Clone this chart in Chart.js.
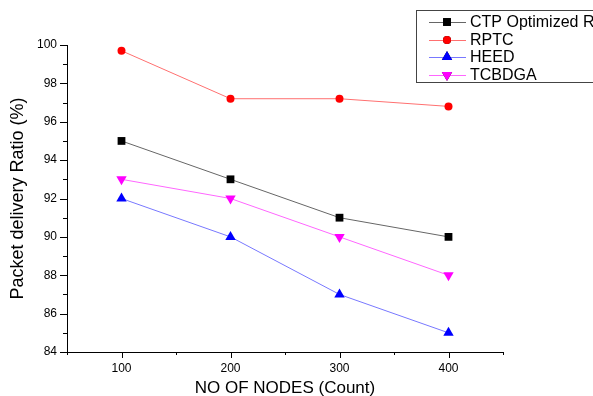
<!DOCTYPE html>
<html>
<head>
<meta charset="UTF-8"/>
<title>Packet delivery Ratio</title>
<script src="https://cdn.jsdelivr.net/npm/chart.js@4.4.0/dist/chart.umd.min.js"></script>
<style>
    body { margin: 0; background: #fff; }
    #box { width: 593px; height: 396px; position: relative; }
</style>
</head>
<body>
<div id="box">
    <canvas id="prChart"></canvas>
</div>
<script>
    // data
    var nodes = [100, 200, 300, 400];
    var ctpValues = [95, 93, 91, 90];
    var rptcValues = [99.7, 97.2, 97.2, 96.8];
    var heedValues = [92, 90, 87, 85];
    var tcbdgaValues = [93, 92, 90, 88];
    var seriesNames = ['CTP Optimized RPL', 'RPTC', 'HEED', 'TCBDGA'];
    var xTickLabels = [100, 200, 300, 400];
    var yTickLabels = [84, 86, 88, 90, 92, 94, 96, 98, 100];

    var FONT = "Arial, 'Liberation Sans', sans-serif";

    function toPoints(vals) {
        return nodes.map(function (n, i) { return {x: n, y: vals[i]}; });
    }

    var styles = [
        {line: '#666666', fill: '#000000', shape: 'rect', r: 5.5, rot: 0},
        {line: '#ff7070', fill: '#ff0000', shape: 'circle', r: 4, rot: 0},
        {line: '#7878ff', fill: '#0000ff', shape: 'triangle', r: 6, rot: 0},
        {line: '#ff66ff', fill: '#ff00ff', shape: 'triangle', r: 6, rot: 180}
    ];
    var allValues = [ctpValues, rptcValues, heedValues, tcbdgaValues];

    var datasets = allValues.map(function (vals, i) {
        var s = styles[i];
        return {
            label: seriesNames[i],
            data: toPoints(vals),
            borderColor: s.line,
            borderWidth: 1,
            backgroundColor: s.fill,
            pointBackgroundColor: s.fill,
            pointBorderColor: s.fill,
            pointBorderWidth: 0,
            pointStyle: s.shape,
            pointRadius: s.r,
            pointRotation: s.rot,
            pointHoverRadius: s.r,
            tension: 0,
            fill: false
        };
    });

    // Origin style tick marks (major + minor)
    var tickMarks = {
        id: 'tickMarks',
        afterDraw: function (chart) {
            var ctx = chart.ctx;
            var xs = chart.scales.x, ys = chart.scales.y;
            var area = chart.chartArea;
            ctx.save();
            ctx.strokeStyle = '#000';
            ctx.lineWidth = 1;
            ctx.beginPath();
            for (var v = 50; v <= 450; v += 50) {
                var px = Math.round(xs.getPixelForValue(v)) + 0.5;
                var len = (v % 100 === 0) ? 6 : 3;
                ctx.moveTo(px, area.bottom);
                ctx.lineTo(px, area.bottom + len);
            }
            for (var w = 84; w <= 100; w += 1) {
                var py = Math.round(ys.getPixelForValue(w)) + 0.5;
                var l2 = (w % 2 === 0) ? 7 : 4;
                ctx.moveTo(area.left, py);
                ctx.lineTo(area.left - l2, py);
            }
            ctx.stroke();
            ctx.restore();
        }
    };

    // boxed legend at top right, as in the original
    var boxLegend = {
        id: 'boxLegend',
        afterDraw: function (chart) {
            var ctx = chart.ctx;
            ctx.save();
            ctx.strokeStyle = '#444';
            ctx.lineWidth = 1;
            ctx.strokeRect(416.5, 10.5, 200, 72);
            var rows = [22, 40, 57, 75];
            ctx.font = '16px ' + FONT;
            ctx.textBaseline = 'middle';
            ctx.textAlign = 'left';
            chart.data.datasets.forEach(function (ds, i) {
                var y = rows[i];
                ctx.strokeStyle = ds.borderColor;
                ctx.beginPath();
                ctx.moveTo(429, y + 0.5);
                ctx.lineTo(466, y + 0.5);
                ctx.stroke();
                Chart.helpers.drawPoint(ctx, {
                    pointStyle: ds.pointStyle,
                    radius: ds.pointRadius,
                    rotation: ds.pointRotation,
                    borderWidth: 0
                }, 447, y);
                ctx.fillStyle = ds.pointBackgroundColor;
                ctx.fill();
                ctx.fillStyle = '#000';
                ctx.fillText(ds.label, 470, y + 1);
            });
            ctx.restore();
        }
    };

    var ctx = document.getElementById('prChart').getContext('2d');
    var prChart = new Chart(ctx, {
        type: 'line',
        data: {datasets: datasets},
        plugins: [tickMarks, boxLegend],
        options: {
            responsive: true,
            maintainAspectRatio: false,
            animation: false,
            layout: {padding: {top: 45, right: 90, left: 0, bottom: 0}},
            plugins: {
                legend: {display: false},
                tooltip: {enabled: false}
            },
            scales: {
                x: {
                    type: 'linear',
                    min: 50,
                    max: 450,
                    afterFit: function (s) { s.height = 44; },
                    grid: {display: false, drawTicks: false},
                    border: {display: true, color: '#000', width: 1},
                    ticks: {
                        stepSize: 50,
                        autoSkip: false,
                        maxRotation: 0,
                        padding: 9,
                        color: '#000',
                        font: {family: FONT, size: 12},
                        callback: function (v) {
                            return xTickLabels.indexOf(v) >= 0 ? String(v) : '';
                        }
                    },
                    title: {
                        display: true,
                        text: 'NO OF NODES (Count)',
                        color: '#000',
                        font: {family: FONT, size: 17, lineHeight: 0.9},
                        padding: {top: 0, bottom: 0}
                    }
                },
                y: {
                    min: 84,
                    max: 100,
                    afterFit: function (s) { s.width = 67; },
                    grid: {display: false, drawTicks: false},
                    border: {display: true, color: '#000', width: 1},
                    ticks: {
                        stepSize: 1,
                        autoSkip: false,
                        padding: 10,
                        color: '#000',
                        font: {family: FONT, size: 12},
                        callback: function (v) {
                            return yTickLabels.indexOf(v) >= 0 ? String(v) : '';
                        }
                    },
                    title: {
                        display: true,
                        text: 'Packet delivery Ratio (%)',
                        color: '#000',
                        font: {family: FONT, size: 18},
                        padding: {top: 7, bottom: 0}
                    }
                }
            }
        }
    });
</script>
</body>
</html>
